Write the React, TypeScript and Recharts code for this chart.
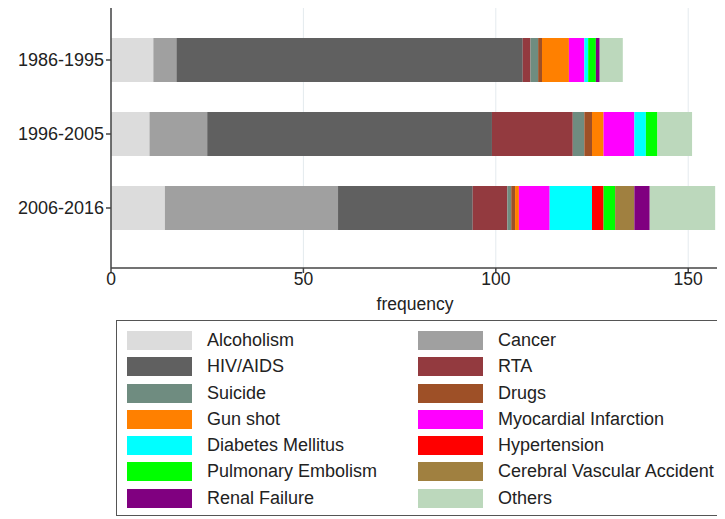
import { BarChart, Bar, XAxis, YAxis, CartesianGrid, Legend } from 'recharts'

const periods = ['1986-1995', '1996-2005', '2006-2016']

const causes = [
  'Alcoholism',
  'Cancer',
  'HIV/AIDS',
  'RTA',
  'Suicide',
  'Drugs',
  'Gun shot',
  'Myocardial Infarction',
  'Diabetes Mellitus',
  'Hypertension',
  'Pulmonary Embolism',
  'Cerebral Vascular Accident',
  'Renal Failure',
  'Others',
]

const colors = [
  '#dcdcdc',
  '#a0a0a0',
  '#606060',
  '#933a3f',
  '#6f8c80',
  '#9e5027',
  '#ff8000',
  '#ff00ff',
  '#00ffff',
  '#ff0000',
  '#00ff00',
  '#a08040',
  '#800080',
  '#bcd8bc',
]

// counts per period, same order as periods
const alcoholism = [11, 10, 14]
const cancer = [6, 15, 45]
const hivAids = [90, 74, 35]
const rta = [2, 21, 9]
const suicide = [2, 3, 1]
const drugs = [1, 2, 1]
const gunShot = [7, 3, 1]
const myocardial = [4, 8, 8]
const diabetes = [1, 3, 11]
const hypertension = [0, 0, 3]
const pulmonary = [2, 3, 3]
const cerebral = [0, 0, 5]
const renal = [1, 0, 4]
const others = [6, 9, 17]

const seriesValues = [
  alcoholism, cancer, hivAids, rta, suicide, drugs, gunShot,
  myocardial, diabetes, hypertension, pulmonary, cerebral, renal, others,
]

const xTicks = [0, 50, 100, 150]

const data = periods.map((period, i) => {
  const row: Record<string, string | number> = { period }
  causes.forEach((c, j) => {
    row[c] = seriesValues[j][i]
  })
  return row
})

const font = '"Liberation Sans", Arial, sans-serif'

function LegendBox() {
  return (
    <div
      style={{
        position: 'relative',
        width: 606,
        height: 196,
        boxSizing: 'border-box',
        border: '1px solid #555',
        fontFamily: font,
        fontSize: 18,
        color: '#222',
      }}
    >
      {causes.map((c, j) => {
        const col = j % 2
        const row = Math.floor(j / 2)
        const top = 19.5 + row * 26.25 - 9.5
        return (
          <div key={c} style={{ position: 'absolute', top, left: col === 0 ? 10 : 301, height: 19, display: 'flex', alignItems: 'center' }}>
            <div style={{ width: 65, height: 19, background: colors[j] }} />
            <span style={{ marginLeft: 15, whiteSpace: 'nowrap' }}>{c}</span>
          </div>
        )
      })}
    </div>
  )
}

export default function App() {
  return (
    <BarChart
      width={717}
      height={511}
      data={data}
      layout="vertical"
      margin={{ top: 0, right: 6, left: 0, bottom: 10 }}
      style={{ fontFamily: font }}
    >
      <CartesianGrid horizontal={false} vertical stroke="#e4eaee" />
      <XAxis
        type="number"
        domain={[0, 158]}
        ticks={xTicks}
        tick={{ fontSize: 17.5, fill: '#222' }}
        tickSize={5}
        tickMargin={0}
        stroke="#444"
        strokeWidth={1.5}
        height={45}
        label={{ value: 'frequency', position: 'insideBottom', offset: 3, fontSize: 17.5, fill: '#222' }}
      />
      <YAxis
        type="category"
        dataKey="period"
        width={103}
        tick={{ fontSize: 18, fill: '#222' }}
        tickSize={5}
        stroke="#444"
        strokeWidth={1.5}
        padding={{ top: 15, bottom: 23 }}
      />
      <Legend
        verticalAlign="bottom"
        content={() => <LegendBox />}
        wrapperStyle={{ left: 108, top: 312, width: 606, height: 196 }}
      />
      {causes.map((c, j) => (
        <Bar key={c} dataKey={c} stackId="a" fill={colors[j]} barSize={44} isAnimationActive={false} />
      ))}
    </BarChart>
  )
}
